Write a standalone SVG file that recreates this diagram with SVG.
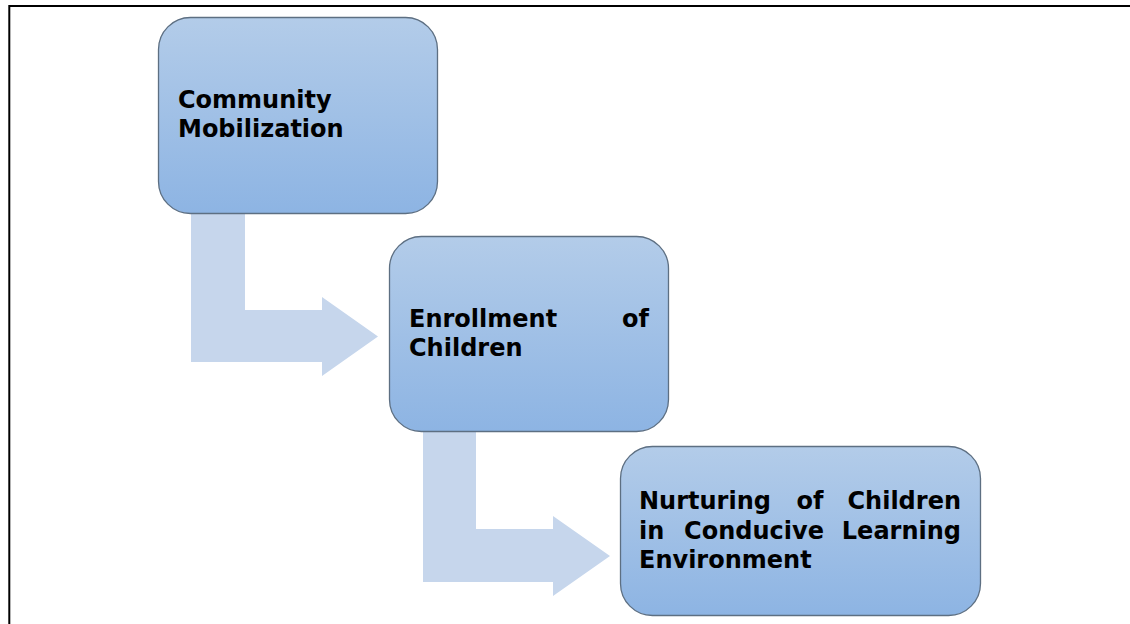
<svg xmlns="http://www.w3.org/2000/svg" width="1130" height="624" viewBox="0 0 1130 624">
<defs>
<linearGradient id="g" x1="0" y1="0" x2="0" y2="1">
<stop offset="0" stop-color="#b3cce9"/>
<stop offset="1" stop-color="#8db4e3"/>
</linearGradient>
<style>
.box{fill:url(#g);stroke:#5d6f82;stroke-width:1.3}
.arr{fill:#c6d6ec}
.t{font-family:"DejaVu Sans",sans-serif;font-weight:bold;font-size:24px;fill:#000}
.e{text-anchor:end}
.m{text-anchor:middle}
</style>
</defs>
<rect width="1130" height="624" fill="#fff"/>
<path d="M9.3 624 V6 H1130" fill="none" stroke="#000" stroke-width="2"/>
<g id="connectors">
<path class="arr" d="M191 214 H245 V310 H322 V297 L378 336.5 L322 376 V362 H191 Z"/>
<path class="arr" d="M423 432 H476 V529 H553 V516 L610 556 L553 596 V582 H423 Z"/>
</g>
<g id="node1">
<rect class="box" x="158.5" y="17.5" width="279" height="196" rx="32"/>
<text class="t" x="178" y="108">Community</text>
<text class="t" x="178" y="137">Mobilization</text>
</g>
<g id="node2">
<rect class="box" x="389.5" y="236.5" width="279" height="195" rx="32"/>
<text class="t" x="409" y="327">Enrollment</text>
<text class="t e" x="649" y="327">of</text>
<text class="t" x="409" y="356">Children</text>
</g>
<g id="node3">
<rect class="box" x="620.5" y="446.5" width="360" height="169" rx="32"/>
<text class="t" x="639" y="509">Nurturing</text>
<text class="t m" x="810" y="509">of</text>
<text class="t e" x="961" y="509">Children</text>
<text class="t" x="639" y="539">in</text>
<text class="t m" x="754" y="539">Conducive</text>
<text class="t e" x="961" y="539">Learning</text>
<text class="t" x="639" y="568">Environment</text>
</g>
</svg>
